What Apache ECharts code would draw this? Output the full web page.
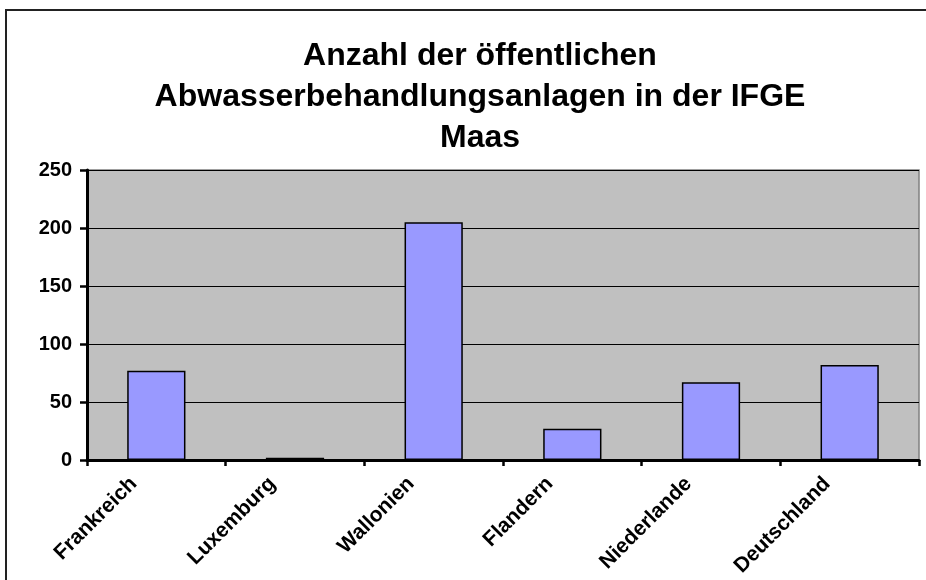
<!DOCTYPE html>
<html>
<head>
<meta charset="utf-8">
<script src="https://cdn.jsdelivr.net/npm/echarts@6/dist/echarts.min.js"></script>
<style>
html,body{margin:0;padding:0;background:#fff;}
#chart{width:926px;height:580px;}
</style>
</head>
<body>
<div id="chart"></div>
<script>
const titleText = "Anzahl der öffentlichen\nAbwasserbehandlungsanlagen in der IFGE\nMaas";
const categories = ["Frankreich", "Luxemburg", "Wallonien", "Flandern", "Niederlande", "Deutschland"];
const values = [77, 2, 205, 27, 67, 82];
const yTicks = [0, 50, 100, 150, 200, 250];

const chart = echarts.init(document.getElementById('chart'), null, {renderer: 'canvas'});
const font = '"Liberation Sans", Arial, sans-serif';
chart.setOption({
  backgroundColor: '#ffffff',
  animation: false,
  graphic: [{
    type: 'rect',
    shape: {x: 6, y: 10, width: 960, height: 620},
    style: {fill: 'none', stroke: '#222', lineWidth: 2},
    silent: true
  }],
  title: {
    text: titleText,
    left: 475,
    top: 31,
    textAlign: 'center',
    textStyle: {
      fontFamily: font,
      fontWeight: 'bold',
      fontSize: 32,
      lineHeight: 41,
      color: '#000'
    }
  },
  grid: {
    left: 87, right: 7, top: 170, bottom: 120,
    outerBoundsMode: 'none',
    containLabel: false,
    show: true,
    backgroundColor: '#C0C0C0',
    borderColor: '#808080',
    borderWidth: 1.5
  },
  xAxis: {
    type: 'category',
    data: categories,
    boundaryGap: true,
    axisLine: {lineStyle: {color: '#000', width: 3}},
    axisTick: {show: true, alignWithLabel: false, length: 6, lineStyle: {color: '#000', width: 2.5}},
    axisLabel: {
      rotate: 45,
      interval: 0,
      margin: -2,
      padding: [0, 32, 0, 0],
      fontFamily: font,
      fontWeight: 'bold',
      fontSize: 21,
      color: '#000'
    },
    splitLine: {show: false}
  },
  yAxis: {
    type: 'value',
    min: yTicks[0],
    max: yTicks[yTicks.length - 1],
    interval: 50,
    axisLine: {show: true, lineStyle: {color: '#000', width: 3}},
    axisTick: {show: true, length: 7, lineStyle: {color: '#000', width: 2.5}},
    axisLabel: {
      margin: 15,
      fontFamily: font,
      fontWeight: 'bold',
      fontSize: 20,
      color: '#000'
    },
    splitLine: {show: true, lineStyle: {color: '#000', width: 1}}
  },
  series: [{
    type: 'bar',
    data: values,
    barWidth: '42%',
    itemStyle: {color: '#9999FF', borderColor: '#000', borderWidth: 1.5}
  }]
});
</script>
</body>
</html>
